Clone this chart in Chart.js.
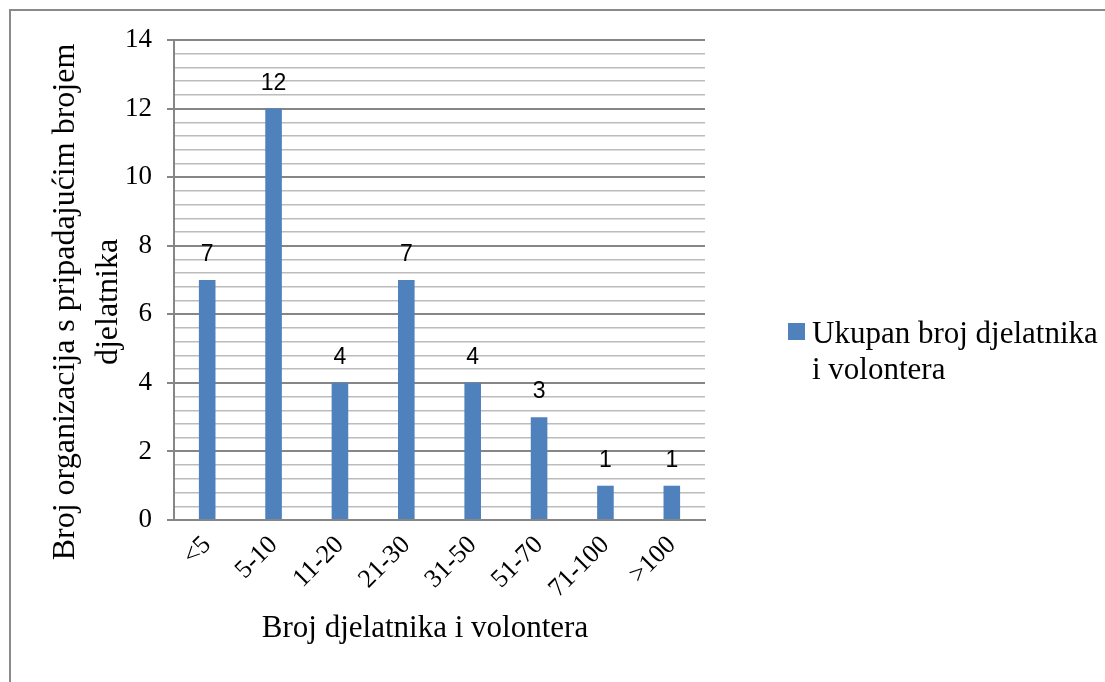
<!DOCTYPE html>
<html>
<head>
<meta charset="utf-8">
<script src="https://cdn.jsdelivr.net/npm/chart.js@4.4.1/dist/chart.umd.min.js"></script>
<style>
  html, body { margin: 0; padding: 0; background: #fff; }
  #wrap { position: relative; width: 1105px; height: 682px; overflow: hidden; }
  #frame { position: absolute; left: 9px; top: 9px; width: 1200px; height: 800px;
           border-left: 2px solid #8a8a8a; border-top: 2px solid #8a8a8a; }
  canvas { position: absolute; left: 0; top: 0; }
</style>
</head>
<body>
<div id="wrap">
  <div id="frame"></div>
  <canvas id="myChart" width="1105" height="682"></canvas>
</div>
<script>
const categories = ["<5", "5-10", "11-20", "21-30", "31-50", "51-70", "71-100", ">100"];
const counts = [7, 12, 4, 7, 4, 3, 1, 1];
const seriesName = "Ukupan broj djelatnika i volontera";
const yTitleLines = ["Broj organizacija s pripadajućim brojem", "djelatnika"];
const xTitle = "Broj djelatnika i volontera";
const yMin = 0;
const yMax = 14;
const yMajorStep = 2;
const yMinorStep = 0.4;

const barColor = "#4F81BD";
const majorGrid = "#868686";
const minorGrid = "#bcbcbc";
const serif = '"Liberation Serif", "Times New Roman", serif';

const isMajor = (v) => Math.abs(v / yMajorStep - Math.round(v / yMajorStep)) < 1e-6;

// wraps legend text into lines that fit maxWidth
const wrapText = (ctx, text, maxWidth) => {
    const words = text.split(" ");
    const lines = [];
    let line = "";
    for (let i = 0; i < words.length; i++) {
        const test = line ? line + " " + words[i] : words[i];
        if (ctx.measureText(test).width > maxWidth && line) {
            lines.push(line);
            line = words[i];
        } else {
            line = test;
        }
    }
    if (line) lines.push(line);
    return lines;
}

const extrasPlugin = {
    id: "extras",
    afterDatasetsDraw(chart) {
        const ctx = chart.ctx;
        const meta = chart.getDatasetMeta(0);
        const values = chart.data.datasets[0].data;
        ctx.save();
        ctx.font = '23px "Liberation Sans", Arial, sans-serif';
        ctx.fillStyle = "#000";
        ctx.textAlign = "center";
        ctx.textBaseline = "alphabetic";
        meta.data.forEach((bar, i) => {
            ctx.fillText(String(values[i]), bar.x, bar.y - 19);
        });
        ctx.restore();
    },
    afterDraw(chart) {
        const ctx = chart.ctx;
        ctx.save();
        ctx.fillStyle = "#000";

        // y axis title (two lines, rotated)
        ctx.font = "32px " + serif;
        ctx.textAlign = "center";
        ctx.textBaseline = "alphabetic";
        ctx.save();
        ctx.translate(74, 302);
        ctx.rotate(-Math.PI / 2);
        ctx.fillText(yTitleLines[0], 0, 0);
        ctx.fillText(yTitleLines[1], 0, 43);
        ctx.restore();

        // x axis title
        ctx.font = "31px " + serif;
        ctx.fillText(xTitle, 425, 637);

        // legend
        const ds = chart.data.datasets[0];
        ctx.fillStyle = ds.backgroundColor;
        ctx.fillRect(788, 323, 17, 17);
        ctx.fillStyle = "#000";
        ctx.font = "31px " + serif;
        ctx.textAlign = "left";
        const lines = wrapText(ctx, ds.label, 1105 - 812);
        lines.forEach((l, i) => ctx.fillText(l, 812, 343 + i * 36));

        ctx.restore();
    }
};

const ctx = document.getElementById("myChart").getContext("2d");
const myChart = new Chart(ctx, {
    type: "bar",
    data: {
        labels: categories,
        datasets: [{
            label: seriesName,
            data: counts,
            backgroundColor: barColor,
            borderWidth: 0,
            categoryPercentage: 1,
            barPercentage: 0.25
        }]
    },
    options: {
        responsive: false,
        animation: false,
        devicePixelRatio: 1,
        layout: { padding: { left: 0, top: 40, right: 400, bottom: 0 } },
        plugins: {
            legend: { display: false },
            tooltip: { enabled: false }
        },
        scales: {
            x: {
                grid: { display: false, drawTicks: false },
                border: { display: true, color: majorGrid, width: 2 },
                ticks: {
                    color: "#000",
                    font: { family: serif, size: 26 },
                    maxRotation: 45,
                    minRotation: 45,
                    padding: 10,
                    autoSkip: false
                },
                afterFit(scale) { scale.height = 162; }
            },
            y: {
                min: yMin,
                max: yMax,
                grid: {
                    color: (c) => (c.tick && isMajor(c.tick.value)) ? majorGrid : minorGrid,
                    lineWidth: (c) => (c.tick && isMajor(c.tick.value)) ? 2 : 1.5,
                    drawTicks: true,
                    tickLength: 7,
                    tickColor: (c) => (c.tick && isMajor(c.tick.value)) ? majorGrid : "rgba(0,0,0,0)",
                    tickWidth: 2
                },
                border: { display: true, color: majorGrid, width: 2 },
                ticks: {
                    stepSize: yMinorStep,
                    autoSkip: false,
                    color: "#000",
                    font: { family: serif, size: 27 },
                    padding: 15,
                    callback: (value) => isMajor(value) ? String(Math.round(value)) : ""
                },
                afterFit(scale) { scale.width = 174; }
            }
        }
    },
    plugins: [extrasPlugin]
});
</script>
</body>
</html>
